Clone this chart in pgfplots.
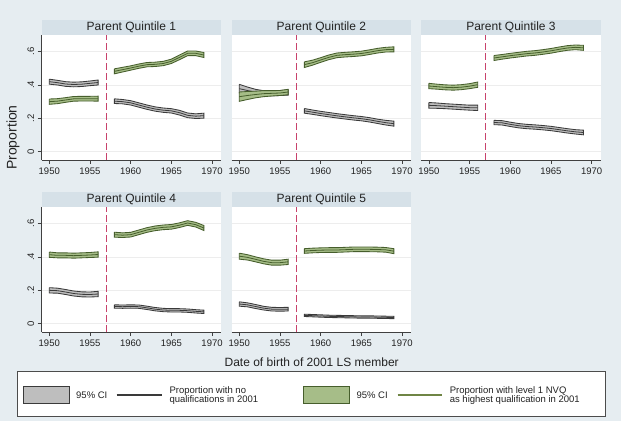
\documentclass[border=0pt]{standalone}
\usepackage{fontspec}
\setmainfont{Liberation Sans}
\usepackage{pgfplots}
\pgfplotsset{compat=1.18}
\usepackage{pgfplotstable}

\definecolor{bgc}{HTML}{E6EDF1}
\definecolor{titlebg}{HTML}{D6E1E8}
\definecolor{nfillc}{HTML}{BEBEBE}
\definecolor{nedgec}{HTML}{3A3A3A}
\definecolor{vfillc}{HTML}{A6BD88}
\definecolor{vedgec}{HTML}{465E2C}
\definecolor{vlinec}{HTML}{6F8545}
\definecolor{cutc}{HTML}{C8426C}
\definecolor{txtc}{HTML}{222222}

% Estimates by birth year: no qualifications (n) and level 1 NVQ (v).
% The row at 1957 separates the cohorts before and after the cut-off.
\pgfplotstableread{
x    n    v
1950 .420 .300
1951 .414 .303
1952 .406 .310
1953 .403 .317
1954 .405 .318
1955 .410 .318
1956 .415 .318
1957 nan  nan
1958 .303 .482
1959 .300 .492
1960 .293 .502
1961 .280 .513
1962 .267 .522
1963 .256 .524
1964 .249 .529
1965 .245 .542
1966 .234 .566
1967 .218 .590
1968 .213 .590
1969 .216 .580
}\midone
% 95% CI outlines: upper bound forwards, lower bound backwards
\pgfplotstableread{
x    n    v
1950 .435 .316
1951 .428 .318
1952 .420 .324
1953 .417 .331
1954 .419 .332
1955 .424 .332
1956 .430 .333
1956 .400 .303
1955 .396 .304
1954 .391 .304
1953 .389 .303
1952 .392 .296
1951 .400 .288
1950 .405 .284
1950 .435 .316
1957 nan  nan
1958 .317 .497
1959 .313 .506
1960 .306 .515
1961 .293 .526
1962 .280 .535
1963 .269 .537
1964 .262 .542
1965 .258 .555
1966 .248 .580
1967 .232 .604
1968 .227 .604
1969 .231 .595
1969 .201 .565
1968 .199 .576
1967 .204 .576
1966 .220 .552
1965 .232 .529
1964 .236 .516
1963 .243 .511
1962 .254 .509
1961 .267 .500
1960 .280 .489
1959 .287 .478
1958 .289 .467
1958 .317 .497
}\cione

\pgfplotstableread{
x    n    v
1950 .378 .330
1951 .367 .337
1952 .357 .343
1953 .351 .348
1954 .350 .350
1955 .352 .352
1956 .355 .358
1957 nan  nan
1958 .245 .522
1959 .237 .534
1960 .229 .550
1961 .222 .566
1962 .215 .578
1963 .209 .582
1964 .203 .585
1965 .198 .589
1966 .191 .597
1967 .182 .606
1968 .174 .612
1969 .168 .614
}\midtwo
\pgfplotstableread{
x    n    v
1950 .404 .358
1951 .388 .361
1952 .374 .363
1953 .366 .366
1954 .365 .366
1955 .367 .367
1956 .371 .374
1956 .339 .342
1955 .337 .337
1954 .335 .334
1953 .336 .330
1952 .340 .323
1951 .346 .313
1950 .352 .302
1950 .404 .358
1957 nan  nan
1958 .259 .539
1959 .250 .549
1960 .242 .564
1961 .235 .580
1962 .228 .592
1963 .222 .596
1964 .216 .599
1965 .211 .603
1966 .204 .611
1967 .195 .620
1968 .188 .626
1969 .183 .629
1969 .153 .599
1968 .160 .598
1967 .169 .592
1966 .178 .583
1965 .185 .575
1964 .190 .571
1963 .196 .568
1962 .202 .564
1961 .209 .552
1960 .216 .536
1959 .224 .519
1958 .231 .505
1958 .259 .539
}\citwo

\pgfplotstableread{
x    n    v
1950 .278 .394
1951 .276 .390
1952 .273 .386
1953 .270 .384
1954 .267 .387
1955 .264 .393
1956 .263 .402
1957 nan  nan
1958 .175 .562
1959 .173 .569
1960 .164 .576
1961 .156 .582
1962 .151 .588
1963 .148 .592
1964 .144 .598
1965 .139 .605
1966 .132 .614
1967 .125 .622
1968 .119 .626
1969 .115 .623
}\midthree
\pgfplotstableread{
x    n    v
1950 .295 .410
1951 .292 .405
1952 .288 .401
1953 .285 .399
1954 .282 .402
1955 .279 .408
1956 .279 .418
1956 .247 .386
1955 .249 .378
1954 .252 .372
1953 .255 .369
1952 .258 .371
1951 .260 .375
1950 .261 .378
1950 .295 .410
1957 nan  nan
1958 .188 .577
1959 .186 .583
1960 .177 .590
1961 .169 .596
1962 .164 .602
1963 .161 .606
1964 .157 .612
1965 .152 .619
1966 .145 .628
1967 .138 .636
1968 .132 .640
1969 .129 .638
1969 .101 .608
1968 .106 .612
1967 .112 .608
1966 .119 .600
1965 .126 .591
1964 .131 .584
1963 .135 .578
1962 .138 .574
1961 .143 .568
1960 .151 .562
1959 .160 .555
1958 .162 .547
1958 .188 .577
}\cithree

\pgfplotstableread{
x    n    v
1950 .200 .414
1951 .198 .410
1952 .190 .410
1953 .181 .408
1954 .176 .410
1955 .175 .412
1956 .178 .415
1957 nan  nan
1958 .103 .534
1959 .102 .531
1960 .103 .534
1961 .102 .548
1962 .095 .562
1963 .087 .572
1964 .082 .578
1965 .080 .581
1966 .080 .591
1967 .078 .604
1968 .074 .594
1969 .071 .574
}\midfour
\pgfplotstableread{
x    n    v
1950 .216 .430
1951 .213 .425
1952 .205 .425
1953 .196 .423
1954 .191 .425
1955 .190 .427
1956 .194 .431
1956 .162 .399
1955 .160 .397
1954 .161 .395
1953 .166 .393
1952 .175 .395
1951 .183 .395
1950 .184 .398
1950 .216 .430
1957 nan  nan
1958 .113 .549
1959 .112 .545
1960 .113 .548
1961 .112 .562
1962 .105 .576
1963 .097 .586
1964 .092 .592
1965 .090 .595
1966 .090 .605
1967 .088 .618
1968 .084 .608
1969 .081 .589
1969 .061 .559
1968 .064 .580
1967 .068 .590
1966 .070 .577
1965 .070 .567
1964 .072 .564
1963 .077 .558
1962 .085 .548
1961 .092 .534
1960 .093 .520
1959 .092 .517
1958 .093 .519
1958 .113 .549
}\cifour

\pgfplotstableread{
x    n    v
1950 .118 .405
1951 .113 .398
1952 .103 .386
1953 .093 .374
1954 .087 .366
1955 .086 .366
1956 .087 .371
1957 nan  nan
1958 .050 .436
1959 .048 .439
1960 .046 .441
1961 .044 .442
1962 .043 .442
1963 .042 .444
1964 .041 .446
1965 .040 .446
1966 .040 .446
1967 .039 .445
1968 .038 .443
1969 .037 .435
}\midfive
\pgfplotstableread{
x    n    v
1950 .131 .423
1951 .125 .414
1952 .115 .401
1953 .104 .389
1954 .098 .381
1955 .097 .381
1956 .098 .387
1956 .076 .355
1955 .075 .351
1954 .076 .351
1953 .082 .359
1952 .091 .371
1951 .101 .382
1950 .105 .387
1950 .131 .423
1957 nan  nan
1958 .057 .450
1959 .055 .453
1960 .053 .455
1961 .051 .456
1962 .050 .456
1963 .049 .458
1964 .048 .460
1965 .047 .460
1966 .047 .460
1967 .046 .459
1968 .045 .457
1969 .044 .450
1969 .030 .420
1968 .031 .429
1967 .032 .431
1966 .033 .432
1965 .033 .432
1964 .034 .432
1963 .035 .430
1962 .036 .428
1961 .037 .428
1960 .039 .427
1959 .041 .425
1958 .043 .422
1958 .057 .450
}\cifive

\pgfplotsset{
  panel/.style={
    scale only axis, width=179.3pt, height=125pt,
    xmin=1949.07, xmax=1971.1, ymin=-0.05, ymax=0.70,
    axis x line*=bottom, axis y line*=left,
    axis line style={-, draw=black!75, line width=0.6pt},
    xtick={1950,1955,...,1970}, ytick={0,0.2,0.4,0.6}, yticklabels={0,.2,.4,.6},
    tick align=outside, major tick length=4pt,
    tick style={black!75, line width=0.6pt},
    ymajorgrids, grid style={black!7, line width=0.7pt},
    axis background/.style={fill=white},
    unbounded coords=jump,
    /pgf/number format/assume math mode=true,
    /pgf/number format/1000 sep={},
    xticklabel style={font=\fontsize{9.5}{10}\selectfont, text=txtc},
    yticklabel style={font=\fontsize{9.5}{10}\selectfont, text=txtc, rotate=90, anchor=south},
  },
  noy/.style={y axis line style={draw=none}, ytick style={draw=none}, yticklabels={}},
}

% CI bands with their outlines, the estimates, and the 1957 cut-off
\newcommand{\panelbody}[2]{%
  \addplot[fill=nfillc, draw=nedgec, line width=0.85pt] table[x=x, y=n] {#2};
  \addplot[draw=nedgec, line width=0.8pt] table[x=x, y=n] {#1};
  \addplot[fill=vfillc, draw=vedgec, line width=0.85pt] table[x=x, y=v] {#2};
  \addplot[draw=vedgec, line width=0.8pt] table[x=x, y=v] {#1};
  \addplot[cutc, line width=1.1pt, dash pattern=on 7pt off 3pt] coordinates {(1957,-0.05) (1957,0.70)};
}
\newcommand{\paneltitle}[2]{%
  \fill[titlebg] (#1.north west) rectangle ([yshift=15.5pt]#1.north east);
  \node[font=\fontsize{12}{14}\selectfont, text=txtc] at ([yshift=7.75pt]#1.north) {#2};
}

\begin{document}
\begin{tikzpicture}
\path[use as bounding box, fill=bgc] (0pt,0pt) rectangle (621pt,-421pt);

\begin{axis}[panel, name=p1, at={(41.7pt,-35pt)}, anchor=north west]
  \panelbody{\midone}{\cione}
\end{axis}
\begin{axis}[panel, noy, name=p2, at={(231.7pt,-35pt)}, anchor=north west]
  \panelbody{\midtwo}{\citwo}
\end{axis}
\begin{axis}[panel, noy, name=p3, at={(421.3pt,-35pt)}, anchor=north west]
  \panelbody{\midthree}{\cithree}
\end{axis}
\begin{axis}[panel, name=p4, at={(41.7pt,-207pt)}, anchor=north west]
  \panelbody{\midfour}{\cifour}
\end{axis}
\begin{axis}[panel, noy, name=p5, at={(231.7pt,-207pt)}, anchor=north west]
  \panelbody{\midfive}{\cifive}
\end{axis}

\paneltitle{p1}{Parent Quintile 1}
\paneltitle{p2}{Parent Quintile 2}
\paneltitle{p3}{Parent Quintile 3}
\paneltitle{p4}{Parent Quintile 4}
\paneltitle{p5}{Parent Quintile 5}

\node[font=\fontsize{14}{16}\selectfont, text=txtc, rotate=90] at (13pt,-137.5pt) {Proportion};
\node[font=\fontsize{12}{14}\selectfont, text=txtc] at (311.7pt,-362.7pt) {Date of birth of 2001 LS member};

% legend
\draw[fill=white, draw=black!70, line width=0.7pt] (17pt,-371pt) rectangle (605pt,-416pt);
\begin{scope}[font=\fontsize{9.5}{9.2}\selectfont, text=txtc]
  \draw[fill=nfillc, draw=nedgec, line width=1pt] (23.3pt,-386.7pt) rectangle (69.3pt,-403.3pt);
  \node[anchor=west, inner sep=0pt] at (76pt,-395pt) {95\% CI};
  \draw[nedgec, line width=1.2pt] (116.7pt,-395pt) -- (161.7pt,-395pt);
  \node[anchor=west, align=left, inner sep=0pt] at (169.3pt,-395.5pt) {Proportion with no\\qualifications in 2001};
  \draw[fill=vfillc, draw=vedgec, line width=1pt] (303.6pt,-386.7pt) rectangle (349.6pt,-403.3pt);
  \node[anchor=west, inner sep=0pt] at (356.3pt,-395pt) {95\% CI};
  \draw[vlinec, line width=1.3pt] (397.5pt,-395pt) -- (442pt,-395pt);
  \node[anchor=west, align=left, inner sep=0pt] at (449.6pt,-395.5pt) {Proportion with level 1 NVQ\\as highest qualification in 2001};
\end{scope}
\end{tikzpicture}
\end{document}
